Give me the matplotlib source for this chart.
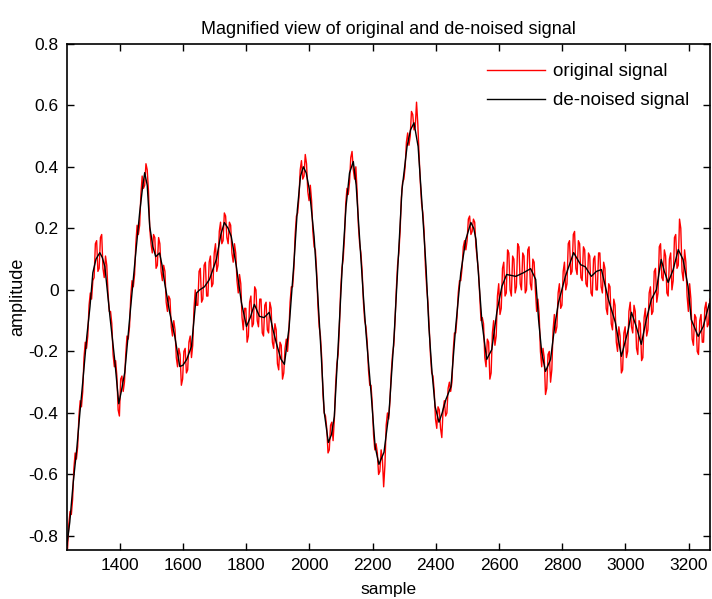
import numpy as np
import matplotlib
matplotlib.use("Agg")
import matplotlib.pyplot as plt

plt.rcParams['font.family'] = ['Liberation Sans', 'DejaVu Sans']

# de-noised signal (sample, amplitude)
den_x = [1233, 1242, 1253, 1264, 1274, 1283, 1296, 1306, 1315, 1325, 1337, 1345,
         1353, 1369, 1384, 1397, 1405, 1416, 1432, 1448, 1463, 1472, 1479, 1487,
         1495, 1505, 1514, 1526, 1534, 1542, 1558, 1574, 1590, 1600, 1612, 1627,
         1643, 1653, 1668, 1684, 1706, 1720, 1731, 1743, 1753, 1769, 1785, 1801,
         1813, 1826, 1842, 1857, 1873, 1885, 1895, 1910, 1921, 1936, 1952, 1962,
         1972, 1981, 1990, 2000, 2015, 2025, 2037, 2047, 2060, 2070, 2079, 2091,
         2104, 2116, 2127, 2139, 2148, 2157, 2170, 2179, 2195, 2208, 2220, 2236,
         2252, 2268, 2280, 2293, 2309, 2320, 2331, 2344, 2356, 2369, 2378, 2388,
         2398, 2410, 2420, 2432, 2448, 2463, 2479, 2495, 2511, 2520, 2527, 2536,
         2546, 2561, 2577, 2593, 2609, 2624, 2653, 2678, 2700, 2716, 2725, 2735,
         2747, 2763, 2776, 2788, 2810, 2836, 2858, 2873, 2892, 2908, 2924, 2946,
         2968, 2987, 3009, 3019, 3034, 3050, 3066, 3082, 3098, 3113, 3123, 3135,
         3151, 3167, 3182, 3198, 3208, 3230, 3246, 3265]
den_y = [-0.83, -0.755, -0.625, -0.518, -0.40, -0.30, -0.15, -0.054, 0.056, 0.10, 0.121, 0.105,
         0.076, -0.086, -0.226, -0.37, -0.33, -0.268, -0.086, 0.09, 0.25, 0.33, 0.381, 0.34,
         0.206, 0.14, 0.108, 0.12, 0.08, 0.024, -0.073, -0.15, -0.249, -0.245, -0.226, -0.184,
         -0.01, 0.0, 0.01, 0.034, 0.10, 0.18, 0.219, 0.20, 0.173, 0.076, -0.041, -0.119,
         -0.09, -0.047, -0.086, -0.09, -0.073, -0.13, -0.171, -0.225, -0.242, -0.12, 0.10, 0.261,
         0.37, 0.40, 0.38, 0.326, 0.173, 0.011, -0.203, -0.398, -0.496, -0.47, -0.411, -0.184,
         0.076, 0.271, 0.38, 0.417, 0.34, 0.196, -0.008, -0.138, -0.333, -0.509, -0.567, -0.528,
         -0.398, -0.151, 0.076, 0.326, 0.466, 0.52, 0.543, 0.466, 0.284, 0.076, -0.119, -0.268,
         -0.38, -0.43, -0.40, -0.356, -0.314, -0.119, 0.056, 0.164, 0.219, 0.20, 0.164, 0.034,
         -0.106, -0.226, -0.194, -0.073, 0.011, 0.05, 0.044, 0.056, 0.069, 0.034, -0.096, -0.203,
         -0.265, -0.226, -0.119, -0.041, 0.044, 0.121, 0.082, 0.075, 0.044, 0.06, 0.066, -0.031,
         -0.106, -0.216, -0.129, -0.073, -0.119, -0.177, -0.096, -0.031, 0.001, 0.099, 0.06, 0.024,
         0.066, 0.131, 0.099, 0.011, -0.096, -0.151, -0.119, -0.045]

# original (noisy) signal, every 4th sample starting at 1235
orig_start = 1235
orig_step = 4
orig_y = [
    -0.84, -0.76, -0.72, -0.73, -0.68, -0.58, -0.53, -0.55, -0.51, -0.41,
    -0.36, -0.38, -0.33, -0.22, -0.17, -0.19, -0.15, -0.05, -0.01, -0.03,
    0.03, 0.04, 0.15, 0.16, 0.06, 0.07, 0.17, 0.18, 0.07, 0.04,
    0.11, 0.08, -0.01, -0.07, -0.07, -0.11, -0.21, -0.25, -0.23, -0.28,
    -0.39, -0.41, -0.29, -0.28, -0.33, -0.30, -0.21, -0.15, -0.16, -0.12,
    -0.02, 0.03, 0.01, 0.05, 0.15, 0.21, 0.18, 0.21, 0.31, 0.37,
    0.33, 0.34, 0.41, 0.39, 0.32, 0.20, 0.15, 0.12, 0.18, 0.17,
    0.07, 0.08, 0.17, 0.15, 0.06, 0.03, 0.08, 0.06, -0.04, -0.07,
    -0.02, -0.03, -0.12, -0.15, -0.10, -0.13, -0.22, -0.25, -0.19, -0.21,
    -0.31, -0.29, -0.20, -0.19, -0.27, -0.26, -0.17, -0.15, -0.22, -0.18,
    -0.06, 0.0, -0.05, -0.05, 0.06, 0.07, -0.04, -0.03, 0.08, 0.09,
    -0.02, -0.02, 0.09, 0.11, 0.01, 0.02, 0.12, 0.15, 0.06, 0.08,
    0.19, 0.22, 0.15, 0.16, 0.25, 0.24, 0.17, 0.15, 0.22, 0.21,
    0.12, 0.09, 0.15, 0.12, 0.03, -0.01, 0.05, 0.02, -0.09, -0.13,
    -0.06, -0.06, -0.17, -0.15, -0.04, -0.02, -0.12, -0.11, 0.01, 0.0,
    -0.10, -0.12, -0.03, -0.03, -0.14, -0.15, -0.05, -0.04, -0.13, -0.14,
    -0.04, -0.06, -0.17, -0.19, -0.11, -0.13, -0.24, -0.26, -0.17, -0.18,
    -0.29, -0.27, -0.19, -0.16, -0.20, -0.14, -0.04, 0.01, 0.01, 0.07,
    0.18, 0.24, 0.25, 0.30, 0.39, 0.42, 0.36, 0.37, 0.44, 0.41,
    0.32, 0.29, 0.34, 0.29, 0.19, 0.14, 0.13, 0.06, -0.05, -0.12,
    -0.15, -0.22, -0.34, -0.40, -0.41, -0.45, -0.53, -0.52, -0.44, -0.43,
    -0.49, -0.42, -0.31, -0.24, -0.21, -0.12, 0.0, 0.07, 0.10, 0.17,
    0.28, 0.33, 0.31, 0.35, 0.43, 0.45, 0.39, 0.36, 0.40, 0.32,
    0.21, 0.15, 0.12, 0.06, -0.04, -0.10, -0.12, -0.17, -0.26, -0.31,
    -0.31, -0.37, -0.47, -0.52, -0.50, -0.53, -0.60, -0.59, -0.52, -0.55,
    -0.64, -0.57, -0.44, -0.40, -0.42, -0.36, -0.27, -0.21, -0.18, -0.10,
    0.0, 0.08, 0.12, 0.19, 0.30, 0.35, 0.36, 0.40, 0.48, 0.51,
    0.47, 0.50, 0.58, 0.57, 0.52, 0.53, 0.61, 0.54, 0.44, 0.35,
    0.28, 0.25, 0.19, 0.08, 0.01, -0.04, -0.12, -0.21, -0.27, -0.28,
    -0.33, -0.42, -0.45, -0.38, -0.39, -0.45, -0.48, -0.39, -0.36, -0.41,
    -0.40, -0.32, -0.30, -0.33, -0.30, -0.20, -0.14, -0.14, -0.09, -0.01,
    0.03, 0.03, 0.07, 0.14, 0.16, 0.13, 0.16, 0.23, 0.24, 0.18,
    0.19, 0.23, 0.22, 0.14, 0.10, 0.06, -0.02, -0.10, -0.09, -0.11,
    -0.22, -0.25, -0.16, -0.17, -0.29, -0.27, -0.14, -0.10, -0.18, -0.15,
    -0.02, 0.02, -0.08, -0.06, 0.07, 0.09, -0.02, -0.01, 0.13, 0.12,
    0.0, -0.02, 0.11, 0.10, -0.01, 0.01, 0.15, 0.14, 0.02, 0.0,
    0.12, 0.11, -0.01, 0.0, 0.13, 0.14, 0.02, 0.0, 0.10, 0.09,
    0.0, -0.07, -0.03, -0.08, -0.20, -0.25, -0.19, -0.22, -0.34, -0.32,
    -0.21, -0.20, -0.30, -0.26, -0.13, -0.08, -0.14, -0.12, -0.01, 0.02,
    -0.06, -0.05, 0.06, 0.09, 0.0, 0.02, 0.15, 0.16, 0.05, 0.06,
    0.18, 0.19, 0.07, 0.05, 0.16, 0.15, 0.04, 0.03, 0.14, 0.13,
    0.02, 0.01, 0.12, 0.11, -0.01, -0.02, 0.10, 0.11, 0.0, 0.0,
    0.12, 0.12, 0.01, -0.01, 0.09, 0.07, -0.06, -0.08, 0.02, 0.01,
    -0.11, -0.13, -0.03, -0.05, -0.17, -0.20, -0.12, -0.15, -0.27, -0.26,
    -0.14, -0.12, -0.22, -0.20, -0.07, -0.04, -0.12, -0.14, -0.05, -0.07,
    -0.19, -0.21, -0.10, -0.11, -0.23, -0.22, -0.09, -0.06, -0.15, -0.13,
    -0.01, 0.01, -0.08, -0.07, 0.06, 0.07, -0.04, -0.01, 0.14, 0.15,
    0.04, 0.03, 0.13, 0.11, -0.01, -0.02, 0.10, 0.12, 0.0, 0.03,
    0.17, 0.18, 0.07, 0.08, 0.23, 0.20, 0.06, 0.03, 0.13, 0.09,
    -0.02, -0.07, 0.02, -0.03, -0.16, -0.18, -0.08, -0.09, -0.20, -0.21,
    -0.10, -0.08, -0.17, -0.17, -0.06, -0.04, -0.12, -0.11, -0.03]
orig_x = orig_start + orig_step * np.arange(len(orig_y))

xticks = [1400, 1600, 1800, 2000, 2200, 2400, 2600, 2800, 3000, 3200]
yticks = [-0.8, -0.6, -0.4, -0.2, 0, 0.2, 0.4, 0.6, 0.8]
ytick_labels = ['-0.8', '-0.6', '-0.4', '-0.2', '0', '0.2', '0.4', '0.6', '0.8']

fig = plt.figure(figsize=(7.12, 5.99), dpi=100)
ax = fig.add_axes([0.094, 0.082, 0.903, 0.845])

ax.plot(orig_x, orig_y, color='#ff0000', lw=1.0, label='original signal')
ax.plot(den_x, den_y, color='black', lw=1.0, label='de-noised signal')

ax.set_xlim(1233, 3267)
ax.set_ylim(-0.845, 0.8)
ax.set_xticks(xticks)
ax.set_xticklabels([str(t) for t in xticks])
ax.set_yticks(yticks)
ax.set_yticklabels(ytick_labels)
ax.tick_params(direction='in', top=True, right=True, length=5, width=1,
               labelsize=12.5, pad=6)
for s in ax.spines.values():
    s.set_linewidth(1.2)

ax.set_title('Magnified view of original and de-noised signal', fontsize=13, pad=7)
ax.set_xlabel('sample', fontsize=12.5, labelpad=6)
ax.set_ylabel('amplitude', fontsize=13, labelpad=2)

ax.legend(loc='upper left', bbox_to_anchor=(0.653, 0.962), frameon=False,
          fontsize=13.5, handlelength=3.1, handletextpad=0.43, borderpad=0,
          borderaxespad=0, labelspacing=0.65)

fig.savefig('out.png', dpi=100)
